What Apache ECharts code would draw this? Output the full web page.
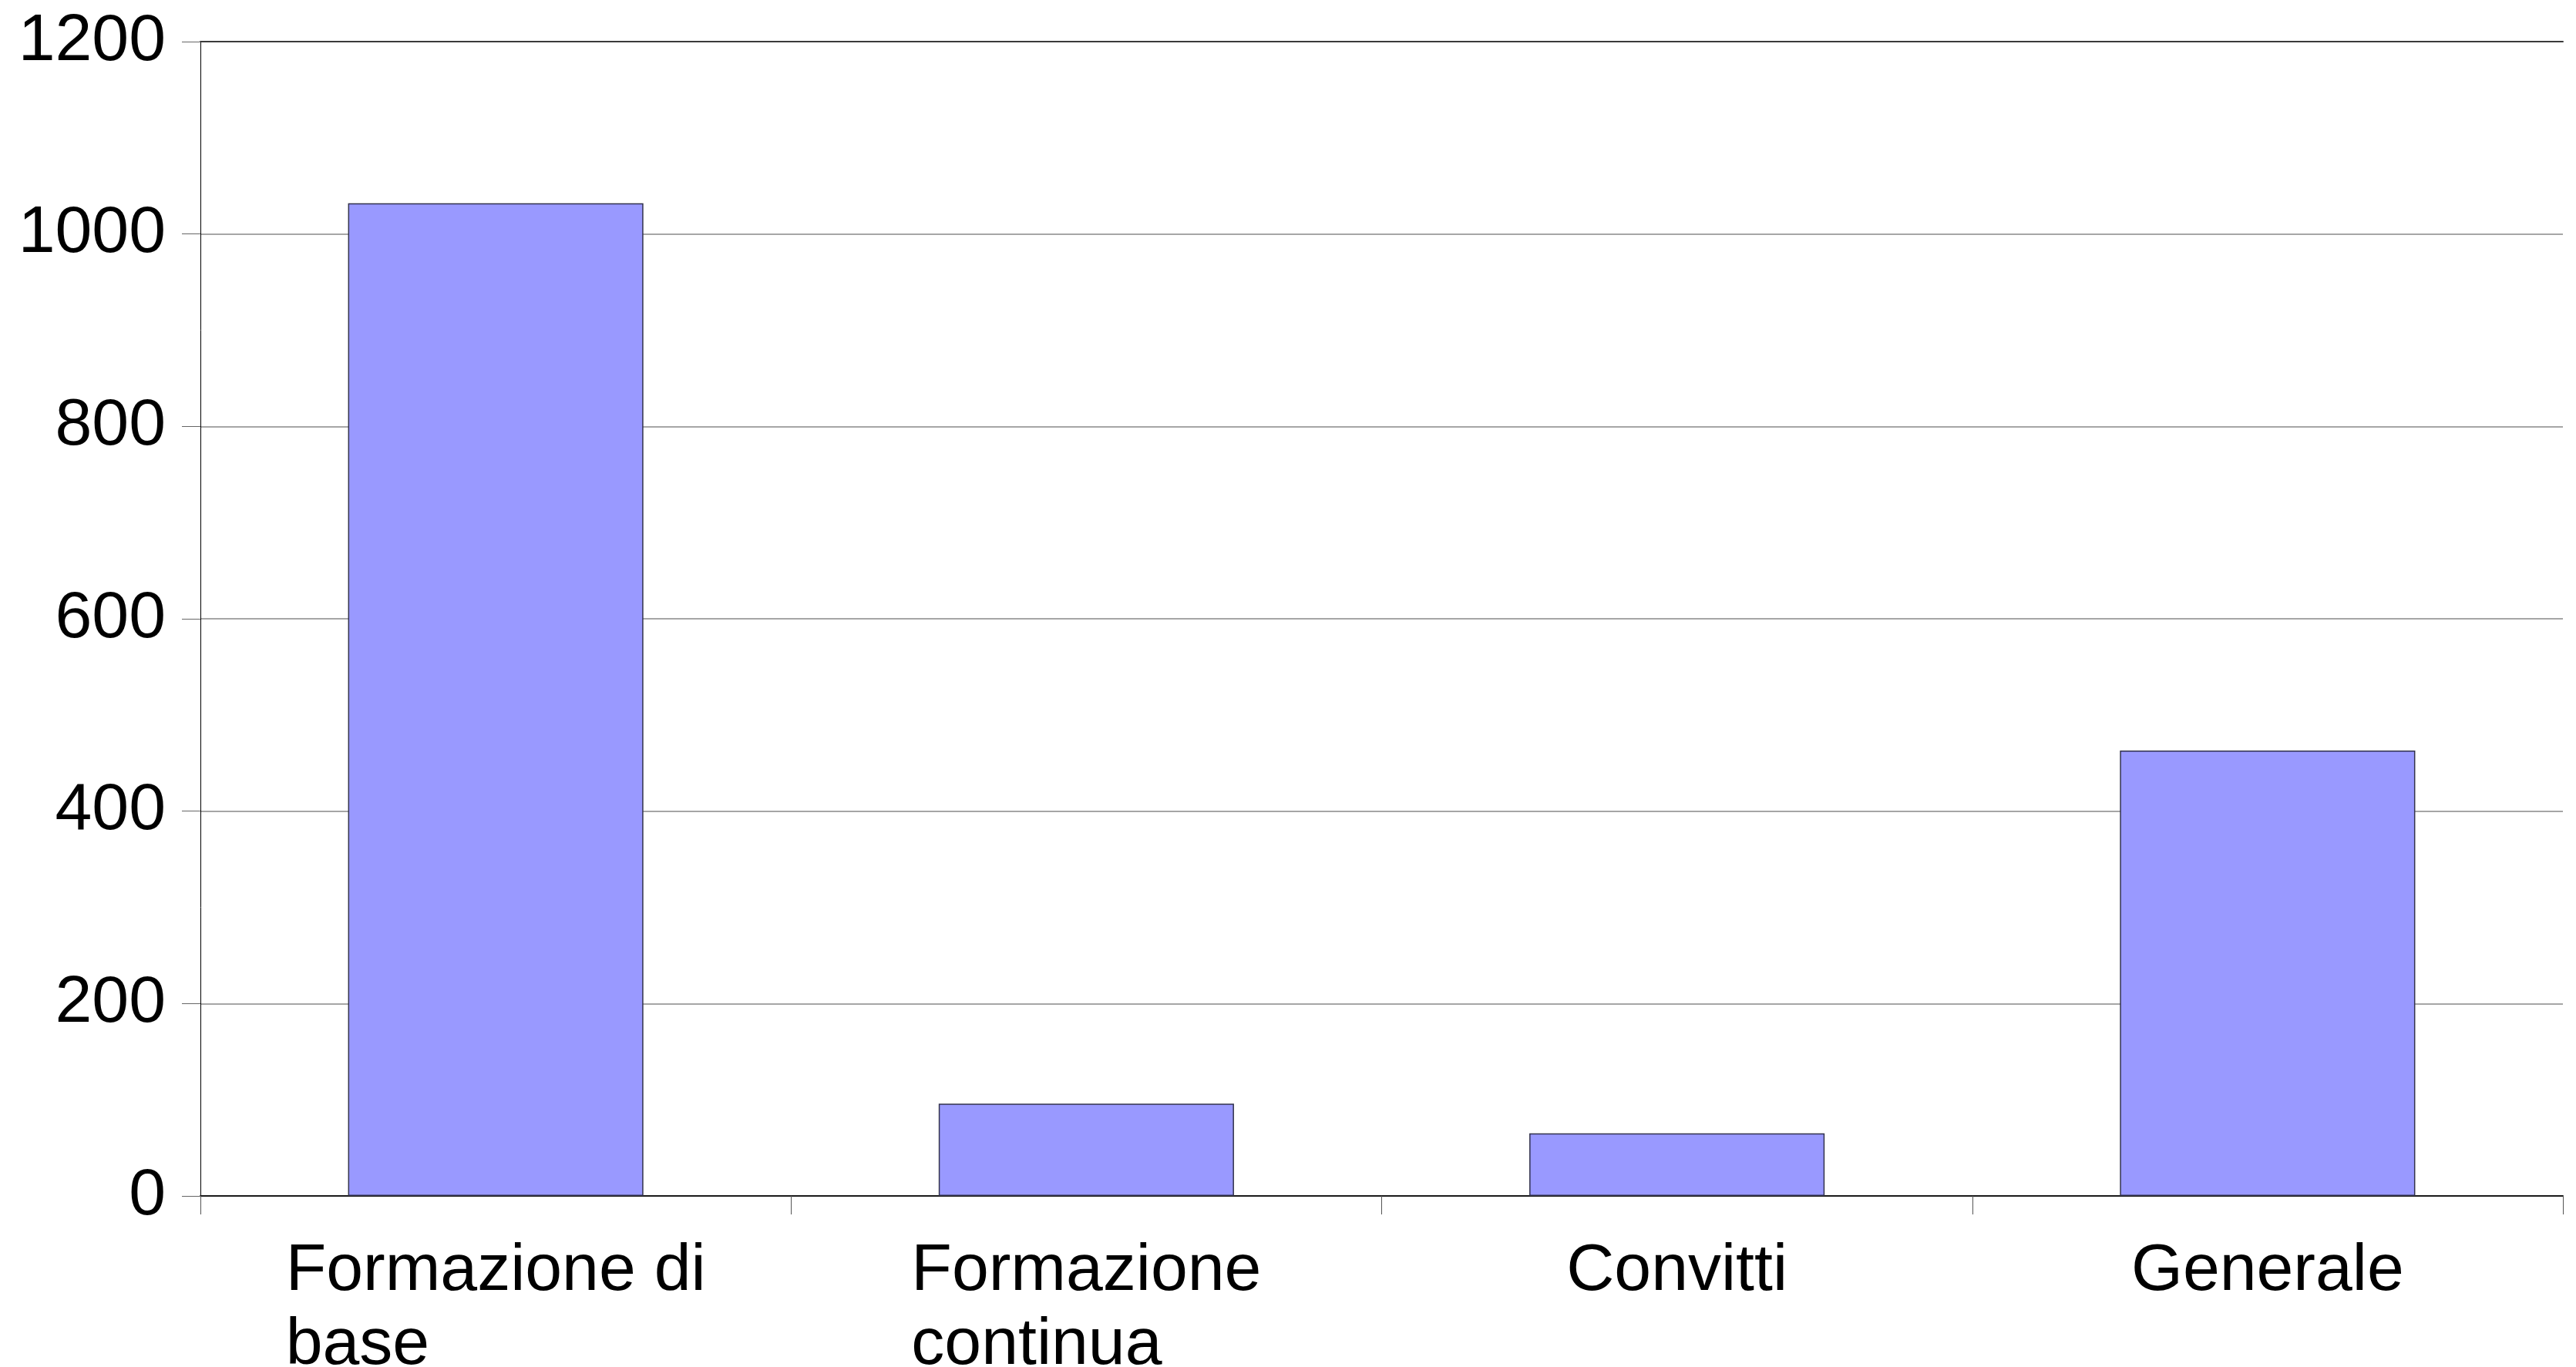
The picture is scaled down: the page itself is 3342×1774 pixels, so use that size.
<!DOCTYPE html>
<html>
<head>
<meta charset="utf-8">
<script src="https://cdn.jsdelivr.net/npm/echarts@6/dist/echarts.min.js"></script>
<style>
  html, body { margin: 0; padding: 0; background: #fff; }
  #chart { width: 3342px; height: 1774px; }
</style>
</head>
<body>
<div id="chart"></div>
<script>
// categories (line breaks as in the original labels)
const categories = ["Formazione di\nbase", "Formazione\ncontinua", "Convitti", "Generale"];
const values = [1032, 96, 65, 463];
const yTicks = [0, 200, 400, 600, 800, 1000, 1200];

const chart = echarts.init(document.getElementById("chart"));

const option = {
  animation: false,
  backgroundColor: "#ffffff",
  textStyle: { fontFamily: "Liberation Sans, Arial, sans-serif" },
  grid: { left: 260, right: 17, top: 54, bottom: 222, outerBoundsMode: "none", containLabel: false },
  xAxis: [
    {
      type: "category",
      data: categories,
      boundaryGap: true,
      axisLine: { show: true, lineStyle: { color: "#1a1a1a", width: 2 } },
      axisTick: { show: true, length: 24, lineStyle: { color: "#555", width: 1 } },
      axisLabel: {
        margin: 50,
        fontSize: 86,
        color: "#000",
        lineHeight: 96,
        interval: 0,
        formatter: (v) => v.split("\n").map((s) => "{t|" + s + "}").join("\n"),
        rich: {
          t: { fontSize: 86, lineHeight: 96, color: "#000", align: "left",
               fontFamily: "Liberation Sans, Arial, sans-serif" }
        }
      }
    },
    {
      // top border line of the plot
      type: "category",
      data: categories,
      position: "top",
      axisLine: { show: true, lineStyle: { color: "#3a3a3a", width: 2 } },
      axisTick: { show: false },
      axisLabel: { show: false }
    }
  ],
  yAxis: {
    type: "value",
    min: yTicks[0],
    max: yTicks[yTicks.length - 1],
    interval: 200,
    axisLine: { show: true, lineStyle: { color: "#000", width: 1 } },
    axisTick: { show: true, length: 24, lineStyle: { color: "#666", width: 1 } },
    axisLabel: { margin: 45, fontSize: 86, color: "#000", formatter: (v) => String(v) },
    splitLine: { show: true, lineStyle: { color: "#888", width: 1.5 } }
  },
  series: [
    {
      type: "bar",
      data: values,
      barWidth: "50%",
      itemStyle: { color: "#9999ff", borderColor: "#33334d", borderWidth: 1.5 }
    }
  ]
};

chart.setOption(option);
</script>
</body>
</html>
